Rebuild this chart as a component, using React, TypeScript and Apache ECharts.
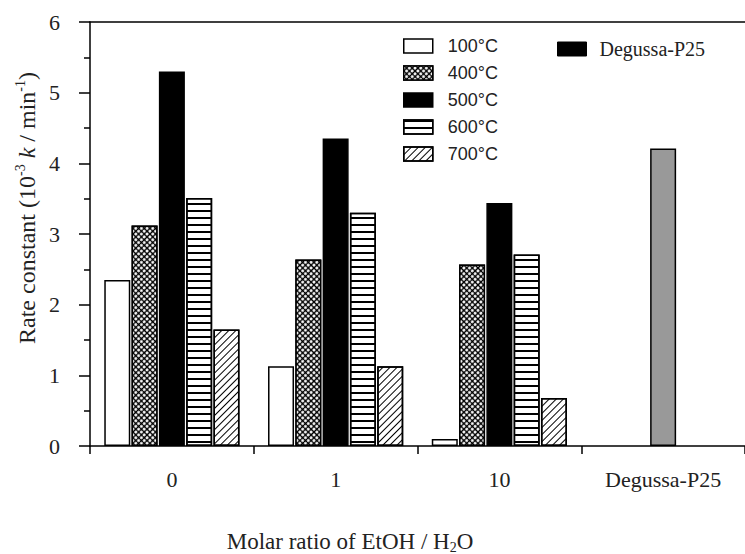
import React, { useEffect, useRef } from 'react';
import * as echarts from 'echarts';

const categories = ['0', '1', '10', 'Degussa-P25'];
const seriesNames = ['100°C', '400°C', '500°C', '600°C', '700°C'];
const t100 = [2.35, 1.13, 0.1, null];
const t400 = [3.12, 2.64, 2.57, null];
const t500 = [5.3, 4.35, 3.44, null];
const t600 = [3.51, 3.3, 2.71, null];
const t700 = [1.65, 1.13, 0.68, null];
const p25 = [null, null, null, 4.21];
const p25Name = 'Degussa-P25';

export default function App() {
  const ref = useRef<HTMLDivElement>(null);
  useEffect(() => {
    const chart = echarts.init(ref.current!, null, { renderer: 'svg' });
    const border = { borderColor: '#000', borderWidth: 1.5 };
    const base = { type: 'bar', barWidth: 26, barGap: '5%', xAxisIndex: 0 };
    const decals: any[] = [
      { itemStyle: { color: '#fff', ...border } },
      {
        itemStyle: {
          color: '#000', ...border,
          decal: { symbol: 'circle', symbolSize: 1, color: '#fff', backgroundColor: '#000', dashArrayX: [3, 1], dashArrayY: [3, 1], rotation: Math.PI / 4 },
        },
      },
      { itemStyle: { color: '#000', ...border } },
      {
        itemStyle: {
          color: '#fff', ...border,
          decal: { symbol: 'rect', symbolSize: 1, color: '#000', backgroundColor: '#fff', dashArrayX: [10, 0], dashArrayY: [1.8, 4.6], rotation: 0 },
        },
      },
      {
        itemStyle: {
          color: '#fff', ...border,
          decal: { symbol: 'rect', symbolSize: 1, color: '#000', backgroundColor: '#fff', dashArrayX: [10, 0], dashArrayY: [1, 3.2], rotation: -Math.PI / 4 },
        },
      },
    ];
    const dataSets = [t100, t400, t500, t600, t700];
    const series: any[] = seriesNames.map((n, i) => ({ ...base, name: n, data: dataSets[i], ...decals[i] }));
    series.push({ type: 'bar', name: p25Name, xAxisIndex: 1, barWidth: 26, data: p25, itemStyle: { color: '#999', ...border } });

    const serif = 'Liberation Serif';
    const txt = '#222';
    chart.setOption({
      animation: false,
      backgroundColor: '#fff',
      grid: { left: 90, top: 22, width: 658, bottom: 108, containLabel: false },
      legend: [
        {
          data: seriesNames, orient: 'vertical', left: 403, top: 37, padding: 0, itemWidth: 29, itemHeight: 14, itemGap: 9,
          icon: 'rect', selectedMode: false,
          itemStyle: { borderColor: '#000', borderWidth: 1.5 },
          textStyle: { fontFamily: 'Liberation Sans', fontSize: 18, color: txt, lineHeight: 14, padding: [0, 0, 0, 10] },
        },
        {
          data: [{ name: p25Name, itemStyle: { color: '#000' } }], orient: 'vertical', left: 557, top: 39, padding: 0, itemWidth: 29, itemHeight: 14,
          icon: 'rect', selectedMode: false,
          itemStyle: { borderColor: '#000', borderWidth: 1 },
          textStyle: { fontFamily: serif, fontSize: 20, color: txt, padding: [0, 0, 0, 8] },
        },
      ],
      xAxis: [
        {
          type: 'category', data: categories, position: 'bottom',
          axisLine: { show: true, lineStyle: { color: '#000', width: 1.5 } },
          axisTick: { show: true, length: 8, lineStyle: { color: '#000', width: 1.5 } },
          axisLabel: { interval: 0, fontFamily: serif, fontSize: 22, color: txt, margin: 22 },
        },
        {
          type: 'category', data: categories, position: 'top',
          axisLine: { show: true, lineStyle: { color: '#000', width: 1.5 } },
          axisTick: { show: false }, axisLabel: { show: false },
        },
      ],
      yAxis: {
        type: 'value', min: 0, max: 6, interval: 1,
        axisLine: { show: true, lineStyle: { color: '#000', width: 1.5 } },
        axisTick: { show: true, length: 11, lineStyle: { color: '#000', width: 1.5 } },
        minorTick: { show: true, splitNumber: 2, length: 6, lineStyle: { color: '#000', width: 1.5 } },
        splitLine: { show: false },
        axisLabel: { fontFamily: serif, fontSize: 22, color: txt, margin: 30 },
      },
      graphic: [
        {
          type: 'text', x: 27, y: 208, rotation: Math.PI / 2,
          style: {
            x: 0, y: 0, align: 'center', verticalAlign: 'middle',
            text: '{a|Rate constant (10}{s|-3}{a| }{i|k}{a| / min}{s|-1}{a|)}',
            rich: {
              a: { fontFamily: serif, fontSize: 24, fill: txt, lineHeight: 28 },
              i: { fontFamily: serif, fontSize: 24, fontStyle: 'italic', fill: txt, lineHeight: 28 },
              s: { fontFamily: serif, fontSize: 14, fill: txt, verticalAlign: 'top', lineHeight: 28 },
            },
          },
        },
        {
          type: 'text', x: 350, y: 541,
          style: {
            x: 0, y: 0, align: 'center', verticalAlign: 'middle',
            text: '{a|Molar ratio of EtOH / H}{b|2}{a|O}',
            rich: {
              a: { fontFamily: serif, fontSize: 23, fill: txt, lineHeight: 26 },
              b: { fontFamily: serif, fontSize: 14, fill: txt, verticalAlign: 'bottom', lineHeight: 26 },
            },
          },
        },
      ],
      series,
    });
    return () => chart.dispose();
  }, []);
  return <div ref={ref} style={{ position: 'absolute', left: 0, top: 0, width: 745, height: 554, background: '#fff' }} />;
}
